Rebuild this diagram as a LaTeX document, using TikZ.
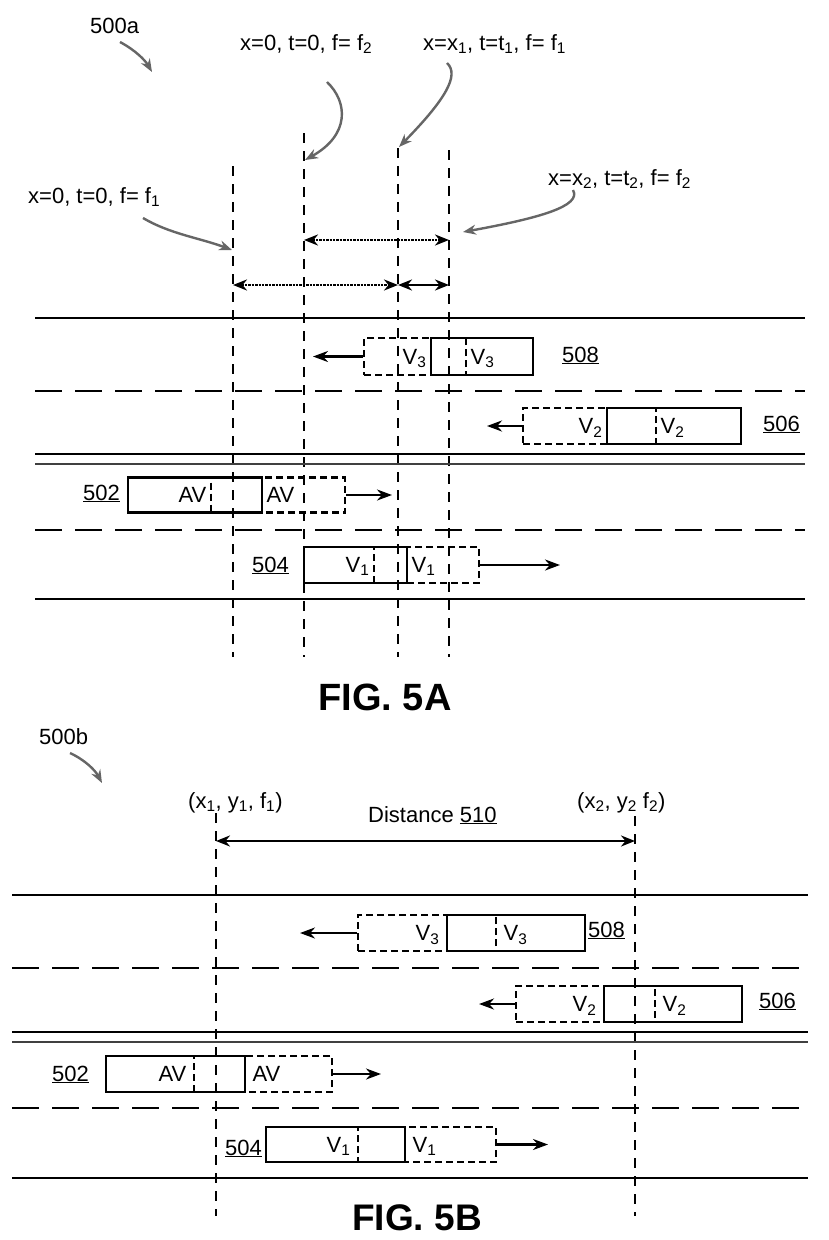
\documentclass[tikz,border=0pt]{standalone}
\usepackage{fontspec}
\setmainfont{Liberation Sans}
\usetikzlibrary{arrows.meta,positioning}
\begin{document}
\begin{tikzpicture}[x=1pt,y=-1pt,font=\fontsize{22}{26}\selectfont]
    \tikzstyle{rd} = [line width=2.9pt] %road edge
    \tikzstyle{rdb} = [line width=2pt,black!75] %second line of the median
    \tikzstyle{ln} = [line width=2.9pt,dash pattern=on 27pt off 13pt] %lane line
    \tikzstyle{rf} = [line width=2.8pt,dash pattern=on 10pt off 8pt] %reference line
    \tikzstyle{car} = [draw,line width=2.8pt,inner sep=0pt] %vehicle, first position
    \tikzstyle{ghost} = [car,dash pattern=on 7pt off 4pt] %vehicle, later position
    \tikzstyle{vl} = [inner sep=3pt,text height=15pt,text depth=0pt] %vehicle label
    \tikzstyle{lbl} = [inner sep=0pt] %text
    \tikzstyle{mv} = [-{Stealth[length=15pt,width=11pt]},line width=2.4pt] %movement
    \tikzstyle{dm} = [{Stealth[length=14pt,width=11pt]}-{Stealth[length=14pt,width=11pt]},line width=2.4pt] %dimension
    \tikzstyle{call} = [-{Stealth[length=13pt,width=10pt]},line width=2.4pt,black!60] %callout
    \useasboundingbox (0,0) rectangle (828,1240);

    % ---------- FIG. 5A ----------
    \node[lbl,anchor=base west](t500a)at(90,33){500a};
    \node[lbl,anchor=base west](tf2)at(240,50){x=0, t=0, f= f\textsubscript{2}};
    \node[lbl,anchor=base west](tx1)at(423,50){x=x\textsubscript{1}, t=t\textsubscript{1}, f= f\textsubscript{1}};
    \node[lbl,anchor=base west](tf1)at(28,203){x=0, t=0, f= f\textsubscript{1}};
    \node[lbl,anchor=base west](tx2)at(548,185){x=x\textsubscript{2}, t=t\textsubscript{2}, f= f\textsubscript{2}};

    % reference lines
    \coordinate(ra)at(233,166); \coordinate(ra')at(233,657);
    \coordinate(rb)at(304,133); \coordinate(rb')at(304,657);
    \coordinate(rc)at(398,148); \coordinate(rc')at(398,657);
    \coordinate(rd)at(449,150); \coordinate(rd')at(449,657);
    \draw[rf](ra)--(ra');
    \draw[rf](rb)--(rb');
    \draw[rf](rc)--(rc');
    \draw[rf](rd)--(rd');

    % callouts
    \coordinate(c500a)at(120,42); \coordinate(e500a)at(152,72);
    \coordinate(cf2)at(327,82); \coordinate(ef2)at(305,160);
    \coordinate(cx1)at(447,63); \coordinate(ex1)at(399,147);
    \coordinate(cf1)at(143,218); \coordinate(ef1)at(232,250);
    \coordinate(cx2)at(573,190); \coordinate(ex2)at(463,232);
    \draw[call](c500a)..controls(135,50)and(145,60)..(e500a);
    \draw[call](cf2)..controls(348,102)and(350,135)..(ef2);
    \draw[call](cx1)..controls(460,75)and(445,100)..(ex1);
    \draw[call](cf1)..controls(170,234)and(200,238)..(ef1);
    \draw[call](cx2)..controls(582,206)and(540,218)..(ex2);

    % distances
    \coordinate(db)at(304,240); \coordinate(dd)at(449,240);
    \coordinate(ga)at(233,285); \coordinate(gc)at(398,285); \coordinate(gd)at(449,285);
    \draw[dm,densely dotted](db)--(dd);
    \draw[dm,densely dotted](ga)--(gc);
    \draw[dm](gc)--(gd);

    % road
    \draw[rd](35,318)--(805,318);
    \draw[ln](35,391)--(805,391);
    \draw[rd](35,454)--(805,454);
    \draw[rdb](35,464)--(805,464);
    \draw[ln](35,530)--(805,530);
    \draw[rd](35,599)--(805,599);

    % vehicles
    \node[ghost,minimum width=102pt,minimum height=37pt](v3b)at(415,356.5){};
    \node[car,minimum width=102pt,minimum height=37pt](v3a)at(482,356.5){};
    \node[ghost,minimum width=133pt,minimum height=36pt](v2b)at(589.5,426){};
    \node[car,minimum width=134pt,minimum height=36pt](v2a)at(674,426){};
    \node[ghost,minimum width=134pt,minimum height=35pt](avb)at(278,495){};
    \node[car,minimum width=134pt,minimum height=35pt](ava)at(195,495){};
    \node[ghost,minimum width=105pt,minimum height=36pt](v1b)at(426.5,565){};
    \node[car,minimum width=103pt,minimum height=36pt](v1a)at(355.5,565){};
    \node[vl,anchor=east](v3bl)at(v3a.west){V\textsubscript{3}};
    \node[vl,anchor=west](v3al)at(v3b.east){V\textsubscript{3}};
    \node[vl,anchor=east](v2bl)at(v2a.west){V\textsubscript{2}};
    \node[vl,anchor=west](v2al)at(v2b.east){V\textsubscript{2}};
    \node[vl,anchor=east](aval)at(avb.west){AV};
    \node[vl,anchor=west](avbl)at(ava.east){AV};
    \node[vl,anchor=east](v1al)at(v1b.west){V\textsubscript{1}};
    \node[vl,anchor=west](v1bl)at(v1a.east){V\textsubscript{1}};
    \coordinate(m3)at(313,356.5);
    \coordinate(m2)at(487,426);
    \coordinate(mav)at(392,495);
    \coordinate(m1)at(560,565);
    \draw[mv](v3b.west)--(m3);
    \draw[mv](v2b.west)--(m2);
    \draw[mv](avb.east)--(mav);
    \draw[mv](v1b.east)--(m1);
    \node[lbl,anchor=base west](n508)at(562,362){\underline{508}};
    \node[lbl,anchor=base west](n506)at(763,431){\underline{506}};
    \node[lbl,anchor=base west](n502)at(83,500){\underline{502}};
    \node[lbl,anchor=base west](n504)at(252,572){\underline{504}};

    \node[lbl,anchor=base,font=\fontsize{38}{44}\selectfont\bfseries](fa)at(385,710){FIG. 5A};

    % ---------- FIG. 5B ----------
    \tikzstyle{vl} = [inner sep=6pt,text height=15pt,text depth=0pt] %vehicle label, wider gap
    \node[lbl,anchor=base west](t500b)at(39,744){500b};
    \coordinate(c500b)at(70,753); \coordinate(e500b)at(102,783);
    \draw[call](c500b)..controls(85,760)and(95,770)..(e500b);
    \node[lbl,anchor=base west](tp1)at(188,808){(x\textsubscript{1}, y\textsubscript{1}, f\textsubscript{1})};
    \node[lbl,anchor=base west](tp2)at(577,808){(x\textsubscript{2}, y\textsubscript{2} f\textsubscript{2})};
    \node[lbl,anchor=base west](tdist)at(368,822){Distance \underline{510}};

    \coordinate(pa)at(216,813); \coordinate(pa')at(216,1216);
    \coordinate(pb)at(635,816); \coordinate(pb')at(635,1216);
    \draw[rf](pa)--(pa');
    \draw[rf](pb)--(pb');
    \coordinate(qa)at(216,841); \coordinate(qb)at(635,841);
    \draw[dm](qa)--(qb);

    \draw[rd](12,895)--(808,895);
    \draw[ln](12,968)--(808,968);
    \draw[rd](12,1032)--(808,1032);
    \draw[rdb](12,1042)--(808,1042);
    \draw[ln](12,1108)--(808,1108);
    \draw[rd](12,1178)--(808,1178);

    \node[ghost,minimum width=138pt,minimum height=36pt](w3b)at(427,933){};
    \node[car,minimum width=138pt,minimum height=36pt](w3a)at(516,933){};
    \node[ghost,minimum width=139pt,minimum height=36pt](w2b)at(585.5,1004){};
    \node[car,minimum width=138pt,minimum height=36pt](w2a)at(673,1004){};
    \node[ghost,minimum width=138pt,minimum height=36pt](bvb)at(263,1074){};
    \node[car,minimum width=139pt,minimum height=36pt](bva)at(175.5,1074){};
    \node[ghost,minimum width=138pt,minimum height=35pt](w1b)at(427,1144.5){};
    \node[car,minimum width=139pt,minimum height=35pt](w1a)at(335.5,1144.5){};
    \node[vl,anchor=east](w3bl)at(w3a.west){V\textsubscript{3}};
    \node[vl,anchor=west](w3al)at(w3b.east){V\textsubscript{3}};
    \node[vl,anchor=east](w2bl)at(w2a.west){V\textsubscript{2}};
    \node[vl,anchor=west](w2al)at(w2b.east){V\textsubscript{2}};
    \node[vl,anchor=east](bval)at(bvb.west){AV};
    \node[vl,anchor=west](bvbl)at(bva.east){AV};
    \node[vl,anchor=east](w1al)at(w1b.west){V\textsubscript{1}};
    \node[vl,anchor=west](w1bl)at(w1a.east){V\textsubscript{1}};
    \coordinate(k3)at(300,933);
    \coordinate(k2)at(479,1004);
    \coordinate(kav)at(381,1074);
    \coordinate(k1)at(548,1144.5);
    \draw[mv](w3b.west)--(k3);
    \draw[mv](w2b.west)--(k2);
    \draw[mv](bvb.east)--(kav);
    \draw[mv](w1b.east)--(k1);
    \node[lbl,anchor=base west](o508)at(588,937){\underline{508}};
    \node[lbl,anchor=base west](o506)at(759,1008){\underline{506}};
    \node[lbl,anchor=base west](o502)at(52,1081){\underline{502}};
    \node[lbl,anchor=base west](o504)at(225,1155){\underline{504}};

    \node[lbl,anchor=base,font=\fontsize{37}{42}\selectfont\bfseries](fb)at(417,1230){FIG. 5B};
  \end{tikzpicture}
\end{document}
